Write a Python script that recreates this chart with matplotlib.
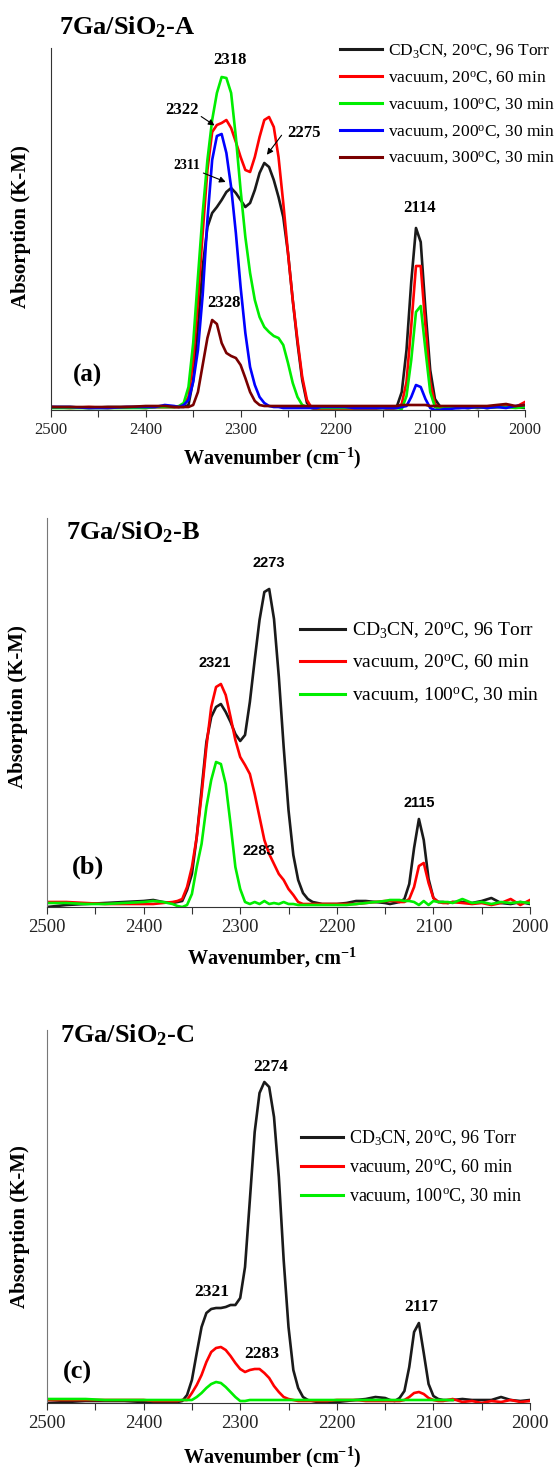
import numpy as np
import matplotlib
matplotlib.use('Agg')
import matplotlib.pyplot as plt
from matplotlib.ticker import MultipleLocator
from matplotlib.lines import Line2D

plt.rcParams['font.family'] = ['Liberation Serif', 'DejaVu Serif']
plt.rcParams['mathtext.fontset'] = 'custom'
plt.rcParams['mathtext.rm'] = 'Liberation Serif'
plt.rcParams['mathtext.it'] = 'Liberation Serif:italic'
plt.rcParams['mathtext.bf'] = 'Liberation Serif:bold'

nan = np.nan

# wavenumber grid (cm-1) shared by every spectrum
wavenumber = [2500, 2480, 2460, 2440, 2420, 2400, 2390, 2380,
              2370, 2365, 2360, 2355, 2350, 2345, 2340, 2335, 2330, 2325, 2320,
              2315, 2310, 2305, 2300, 2295, 2290, 2285, 2280, 2275, 2270, 2265,
              2260, 2255, 2250, 2245, 2240, 2235, 2230, 2225, 2220, 2215, 2210,
              2200, 2190, 2180, 2170, 2160, 2150,
              2145, 2140, 2135, 2130, 2125, 2120, 2115, 2110, 2105, 2100, 2095, 2090, 2085,
              2080, 2070, 2060, 2050, 2040, 2030, 2020, 2010, 2000]

# panel (a) 7Ga/SiO2-A, absorption (K-M, a.u.)
a_cd3cn = [3, 3, 2, 3, 3, 3, 3, 3,
           3, 3, 3, 5, 30, 83, 143, 183, 197, 203, 210, 218, 222, 217, 210, 203, 207,
           220, 237, 247, 243, 230, 213, 193, 157, 110, 67, 30, 7, 3, 3, 2, 2,
           2, 2, 3, 3, 2, 3,
           3, 3, 4, 18, 60, 128, 182, 168, 100, 40, 11, 4, 3,
           3, 2, 3, 2, 3, 3, 4, 3, 2]
a_vac20 = [3, 2, 3, 2, 3, 2, 3, 3,
           3, 3, 5, 13, 50, 110, 177, 240, 278, 285, 287, 290, 282, 268, 253, 240, 238,
           253, 273, 290, 293, 283, 253, 207, 157, 110, 70, 33, 10, 2, 0, 0, 0,
           0, 0, 1, 1, 1, 2,
           1, 1, 2, 6, 28, 84, 144, 144, 84, 28, 6, 2, 2,
           2, 3, 2, 3, 2, 3, 4, 3, 8]
a_vac100 = [2, 2, 2, 2, 2, 2, 3, 3,
            3, 4, 7, 23, 67, 133, 197, 250, 290, 317, 333, 332, 317, 273, 220, 173, 137,
            110, 93, 83, 78, 74, 72, 65, 47, 27, 13, 5, 3, 2, 2, 2, 2,
            2, 2, 2, 2, 2, 2,
            2, 2, 2, 1, 14, 50, 98, 104, 60, 18, 3, 1, 2,
            2, 3, 2, 3, 2, 3, 3, 2, 3]
a_vac200 = [3, 3, 2, 2, 3, 3, 3, 5,
            4, 3, 5, 10, 28, 60, 115, 190, 250, 274, 276, 257, 223, 177, 123, 77, 43,
            25, 13, 7, 4, 3, 3, 2, 2, 2, 2, 2, 2, 2, 2, 3, 3,
            3, 3, 2, 2, 2, 2,
            2, 2, 2, 3, 4, 13, 25, 23, 11, 2, 0, 0, 1,
            1, 2, 2, 3, 2, 3, 2, 4, 5]
a_vac300 = [3, 3, 3, 3, 3, 4, 4, 4,
            3, 3, 3, 3, 5, 18, 45, 72, 90, 86, 67, 57, 54, 52, 45, 32, 18,
            9, 5, 4, 4, 4, 4, 4, 4, 4, 4, 4, 4, 4, 4, 4, 4,
            4, 4, 4, 4, 4, 4,
            4, 4, 4, 5, 5, 5, 5, 5, 5, 4, 4, 4, 4,
            4, 4, 4, 4, 4, 5, 6, 4, 5]

# panel (b) 7Ga/SiO2-B
b_cd3cn = [0, 2, 3, 4, 5, 6, 7, 5,
           4, 5, 6, 17, 33, 70, 117, 165, 190, 200, 203, 195, 185, 173, 166, 172, 205,
           247, 287, 315, 318, 288, 230, 160, 97, 52, 27, 14, 8, 5, 4, 3, 3,
           3, 4, 6, 6, 5, 4,
           3, 4, 5, 8, 23, 59, 88, 67, 28, 9, 5, 5, 4,
           5, 5, 4, 6, 9, 4, 3, 5, 3]
b_vac20 = [5, 5, 4, 3, 3, 3, 3, 4,
           5, 6, 8, 20, 40, 70, 112, 160, 200, 220, 223, 212, 190, 167, 150, 142, 133,
           113, 90, 67, 53, 43, 33, 27, 18, 12, 5, 3, 3, 3, 3, 3, 3,
           3, 3, 3, 4, 5, 6,
           6, 6, 5, 5, 8, 20, 41, 44, 24, 9, 5, 4, 4,
           5, 4, 3, 4, 2, 4, 8, 2, 7]
b_vac100 = [4, 4, 3, 3, 4, 5, 6, 5,
            3, 1, 0, 2, 13, 40, 63, 100, 127, 145, 143, 123, 83, 40, 18, 5, 3,
            5, 3, 6, 3, 4, 3, 5, 3, 3, 2, 2, 2, 2, 2, 2, 2,
            2, 2, 3, 4, 5, 6,
            7, 7, 7, 6, 6, 5, 2, 6, 2, 6, 5, 5, 5,
            4, 8, 4, 5, 3, 5, 4, 5, 4]

# panel (c) 7Ga/SiO2-C
c_cd3cn = [0, 1, 2, 2, 2, 1, 0, 0,
           1, 1, 2, 8, 23, 50, 76, 90, 94, 95, 95, 96, 98, 98, 105, 136, 203,
           271, 310, 321, 316, 286, 226, 143, 76, 33, 15, 6, 3, 2, 1, 0, 0,
           1, 2, 3, 4, 6, 5,
           3, 2, 5, 12, 36, 71, 80, 50, 19, 7, 4, 3, 3,
           3, 4, 3, 3, 3, 6, 3, 2, 3]
c_vac20 = [3, 3, 3, 3, 3, 3, 2, 2,
           2, 2, 3, 3, 10, 18, 28, 41, 51, 55, 56, 53, 47, 40, 34, 31, 33,
           34, 34, 30, 25, 17, 11, 6, 4, 3, 2, 2, 2, 2, 2, 2, 2,
           3, 3, 3, 2, 2, 2,
           2, 2, 2, 3, 6, 10, 11, 9, 5, 3, 2, 2, 3,
           4, 1, 2, 0, 2, 1, 3, 1, 2]
c_vac100 = [4, 4, 4, 3, 3, 3, 3, 3,
            3, 3, 3, 3, 3, 6, 10, 15, 19, 21, 20, 16, 11, 6, 2, 2, 3,
            3, 3, 3, 3, 3, 3, 3, 3, 3, 3, 3, 3, 3, 3, 3, 3,
            3, 3, 3, 3, 3, 3,
            3, 3, 3, 3, 3, 3, 3, 3, 3, 3, 3, 3, 3,
            3, nan, nan, nan, nan, nan, nan, nan, nan]

labels_a = [r'CD$_3$CN, 20$^\mathrm{o}$C, 96 Torr',
            r'vacuum, 20$^\mathrm{o}$C, 60 min',
            r'vacuum, 100$^\mathrm{o}$C, 30 min',
            r'vacuum, 200$^\mathrm{o}$C, 30 min',
            r'vacuum, 300$^\mathrm{o}$C, 30 min']
colors = ['#1a1a1a', '#ff0000', '#00ee00', '#0000ff', '#7a0000']

W, H = 558, 1467
fig = plt.figure(figsize=(W / 100, H / 100), dpi=100)


def box(left, right, top, bottom):
    return [left / W, 1 - bottom / H, (right - left) / W, (bottom - top) / H]


def fxy(x, y):
    return x / W, 1 - y / H


def setup(ax, ymax, spine_color, tick_size):
    ax.set_xlim(2500, 2000)
    ax.set_ylim(0, ymax)
    ax.set_yticks([])
    ax.spines['top'].set_visible(False)
    ax.spines['right'].set_visible(False)
    ax.spines['left'].set_color(spine_color)
    ax.spines['bottom'].set_color('#333333')
    ax.xaxis.set_major_locator(MultipleLocator(100))
    ax.xaxis.set_minor_locator(MultipleLocator(50))
    ax.tick_params(axis='x', which='both', direction='out', length=5, width=0.8,
                   colors='#333333', labelsize=tick_size, labelcolor='#222222')
    ax.patch.set_alpha(0)


def draw_legend(ax, labels, cols, x, y, size, spacing, hlen):
    handles = [Line2D([], [], color=c, lw=2.2) for c in cols]
    ax.legend(handles, labels, loc='upper left', bbox_to_anchor=fxy(x, y),
              bbox_transform=fig.transFigure, frameon=False, borderpad=0,
              borderaxespad=0, handlelength=hlen, handletextpad=0.35,
              labelspacing=spacing, prop={'family': 'Liberation Serif', 'size': size})


bold_serif = dict(fontweight='bold', family='Liberation Serif')
bold_sans = dict(fontweight='bold', family='Liberation Sans')
arrow = dict(arrowstyle='-|>', lw=0.8, color='black', mutation_scale=9)
LW = 1.9

# ---- panel (a)
ax_a = fig.add_axes(box(51, 525, 48, 410))
setup(ax_a, 362, '#333333', 12)
for ys, c in zip([a_cd3cn, a_vac20, a_vac100, a_vac200, a_vac300], colors):
    ax_a.plot(wavenumber, ys, color=c, lw=LW)
draw_legend(ax_a, labels_a, colors, 340, 42, 12.5, 0.53, 2.4)
ax_a.text(2311, 350, '2318', ha='center', va='center', fontsize=12, **bold_serif)
ax_a.text(2362, 300, '2322', ha='center', va='center', fontsize=12, **bold_serif)
ax_a.text(2233, 277, '2275', ha='center', va='center', fontsize=12, **bold_serif)
ax_a.text(2357, 245, '2311', ha='center', va='center', fontsize=10, **bold_serif)
ax_a.text(2318, 107, '2328', ha='center', va='center', fontsize=12, **bold_serif)
ax_a.text(2111, 202, '2114', ha='center', va='center', fontsize=12, **bold_serif)
ax_a.text(2462, 35, '(a)', ha='center', va='center', fontsize=18, **bold_serif)
ax_a.annotate('', xy=(2325, 283), xytext=(2344, 295), arrowprops=arrow)
ax_a.annotate('', xy=(2274, 253), xytext=(2255, 277), arrowprops=arrow)
ax_a.annotate('', xy=(2313, 227), xytext=(2342, 238), arrowprops=arrow)
fig.text(*fxy(59, 27), r'7Ga/SiO$_\mathbf{2}$-A', ha='left', va='center',
         fontsize=19, **bold_serif)
fig.text(*fxy(272, 458), r'Wavenumber (cm$^\mathbf{-1}$)', ha='center', va='center',
         fontsize=14.5, **bold_serif)
fig.text(*fxy(21, 227), 'Absorption (K-M)', rotation=90, ha='center', va='center',
         fontsize=15, **bold_serif)

# ---- panel (b)
ax_b = fig.add_axes(box(47, 530, 518, 907))
setup(ax_b, 389, '#777777', 13.4)
for ys, c in zip([b_cd3cn, b_vac20, b_vac100], colors[:3]):
    ax_b.plot(wavenumber, ys, color=c, lw=LW)
draw_legend(ax_b, labels_a[:3], colors[:3], 300, 621, 14, 0.6, 2.3)
ax_b.text(2270, 344, '2273', ha='center', va='center', fontsize=10.5, **bold_sans)
ax_b.text(2326, 244, '2321', ha='center', va='center', fontsize=10.5, **bold_sans)
ax_b.text(2281, 56, '2283', ha='center', va='center', fontsize=10.5, **bold_sans)
ax_b.text(2115, 104, '2115', ha='center', va='center', fontsize=10.5, **bold_sans)
ax_b.text(2458, 40, '(b)', ha='center', va='center', fontsize=19, **bold_serif)
fig.text(*fxy(66, 532), r'7Ga/SiO$_\mathbf{2}$-B', ha='left', va='center',
         fontsize=19, **bold_serif)
fig.text(*fxy(272, 958), r'Wavenumber, cm$^\mathbf{-1}$', ha='center', va='center',
         fontsize=14.5, **bold_serif)
fig.text(*fxy(18, 707), 'Absorption (K-M)', rotation=90, ha='center', va='center',
         fontsize=15, **bold_serif)

# ---- panel (c)
ax_c = fig.add_axes(box(47, 530, 1030, 1403))
setup(ax_c, 373, '#777777', 13.4)
for ys, c in zip([c_cd3cn, c_vac20, c_vac100], colors[:3]):
    ax_c.plot(wavenumber, ys, color=c, lw=LW)
draw_legend(ax_c, labels_a[:3], colors[:3], 301, 1128, 13, 0.52, 2.3)
ax_c.text(2268, 336, '2274', ha='center', va='center', fontsize=12.5, **bold_serif)
ax_c.text(2329, 111, '2321', ha='center', va='center', fontsize=12.5, **bold_serif)
ax_c.text(2278, 49, '2283', ha='center', va='center', fontsize=12.5, **bold_serif)
ax_c.text(2113, 96, '2117', ha='center', va='center', fontsize=12.5, **bold_serif)
ax_c.text(2468, 31, '(c)', ha='center', va='center', fontsize=19, **bold_serif)
fig.text(*fxy(60, 1035), r'7Ga/SiO$_\mathbf{2}$-C', ha='left', va='center',
         fontsize=19, **bold_serif)
fig.text(*fxy(272, 1457), r'Wavenumber (cm$^\mathbf{-1}$)', ha='center', va='center',
         fontsize=14.5, **bold_serif)
fig.text(*fxy(20, 1227), 'Absorption (K-M)', rotation=90, ha='center', va='center',
         fontsize=15, **bold_serif)

fig.savefig('out.png', dpi=100)
